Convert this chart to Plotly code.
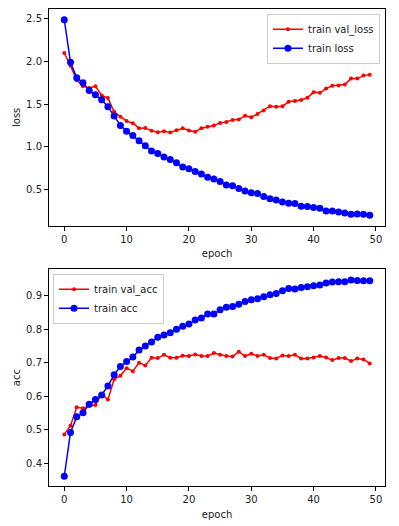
import plotly.graph_objects as go

epochs = list(range(50))

train_loss = [2.49, 1.99, 1.81, 1.75, 1.66, 1.61, 1.55, 1.47, 1.36, 1.25,
              1.18, 1.13, 1.07, 1.01, 0.95, 0.92, 0.88, 0.85, 0.81, 0.76,
              0.74, 0.71, 0.68, 0.64, 0.62, 0.59, 0.55, 0.54, 0.51, 0.48,
              0.46, 0.45, 0.415, 0.39, 0.375, 0.35, 0.335, 0.333, 0.30, 0.297,
              0.285, 0.276, 0.246, 0.244, 0.232, 0.221, 0.208, 0.209, 0.207, 0.194]

val_loss = [2.10, 1.95, 1.78, 1.71, 1.69, 1.71, 1.60, 1.57, 1.41, 1.35,
            1.30, 1.275, 1.217, 1.22, 1.186, 1.17, 1.18, 1.167, 1.194, 1.217,
            1.19, 1.174, 1.217, 1.233, 1.248, 1.279, 1.291, 1.314, 1.318, 1.364,
            1.345, 1.384, 1.425, 1.475, 1.47, 1.475, 1.527, 1.535, 1.547, 1.574,
            1.64, 1.632, 1.682, 1.715, 1.718, 1.729, 1.799, 1.799, 1.834, 1.845]

train_acc = [0.361, 0.492, 0.539, 0.551, 0.576, 0.590, 0.604, 0.631, 0.664, 0.689,
             0.704, 0.717, 0.738, 0.750, 0.762, 0.776, 0.783, 0.790, 0.800, 0.809,
             0.816, 0.828, 0.834, 0.846, 0.846, 0.858, 0.866, 0.868, 0.875, 0.883,
             0.888, 0.891, 0.897, 0.903, 0.907, 0.915, 0.922, 0.920, 0.925, 0.927,
             0.930, 0.932, 0.938, 0.941, 0.942, 0.942, 0.947, 0.946, 0.945, 0.945]

val_acc = [0.486, 0.512, 0.567, 0.564, 0.572, 0.574, 0.607, 0.590, 0.651, 0.661,
           0.684, 0.675, 0.700, 0.692, 0.715, 0.714, 0.724, 0.715, 0.715, 0.721,
           0.720, 0.725, 0.720, 0.720, 0.729, 0.724, 0.720, 0.719, 0.733, 0.720,
           0.727, 0.720, 0.724, 0.714, 0.713, 0.722, 0.720, 0.724, 0.713, 0.713,
           0.716, 0.720, 0.716, 0.708, 0.714, 0.714, 0.705, 0.713, 0.710, 0.698]

x_ticks = [0, 10, 20, 30, 40, 50]
loss_ticks = [0.5, 1.0, 1.5, 2.0, 2.5]
acc_ticks = [0.4, 0.5, 0.6, 0.7, 0.8, 0.9]

RED = "#ff0000"
BLUE = "#0000ff"
FONT = "DejaVu Sans"

fig = go.Figure()

fig.add_trace(go.Scatter(x=epochs, y=val_loss, mode="lines+markers", name="train val_loss",
                         line=dict(color=RED, width=1.5), marker=dict(color=RED, size=4),
                         xaxis="x", yaxis="y", legend="legend"))
fig.add_trace(go.Scatter(x=epochs, y=train_loss, mode="lines+markers", name="train loss",
                         line=dict(color=BLUE, width=1.5), marker=dict(color=BLUE, size=7),
                         xaxis="x", yaxis="y", legend="legend"))
fig.add_trace(go.Scatter(x=epochs, y=val_acc, mode="lines+markers", name="train val_acc",
                         line=dict(color=RED, width=1.5), marker=dict(color=RED, size=4),
                         xaxis="x2", yaxis="y2", legend="legend2"))
fig.add_trace(go.Scatter(x=epochs, y=train_acc, mode="lines+markers", name="train acc",
                         line=dict(color=BLUE, width=1.5), marker=dict(color=BLUE, size=7),
                         xaxis="x2", yaxis="y2", legend="legend2"))

axis_common = dict(showline=True, linecolor="black", linewidth=1, mirror=True,
                   ticks="outside", ticklen=4, tickcolor="black", tickwidth=1,
                   showgrid=False, zeroline=False,
                   tickfont=dict(family=FONT, size=10, color="#222222"))

fig.update_layout(
    width=399, height=526,
    margin=dict(l=49, r=14, t=8, b=38),
    paper_bgcolor="white", plot_bgcolor="white",
    font=dict(family=FONT, size=10, color="#222222"),
    xaxis=dict(domain=[0, 1], anchor="y", range=[-2.45, 51.45], tickvals=x_ticks,
               title=dict(text="epoch", font=dict(family=FONT, size=10), standoff=6),
               **axis_common),
    yaxis=dict(domain=[0.5458, 1.0], anchor="x", range=[0.073, 2.616], tickvals=loss_ticks,
               tickformat=".1f",
               title=dict(text="loss", font=dict(family=FONT, size=10), standoff=3),
               **axis_common),
    xaxis2=dict(domain=[0, 1], anchor="y2", range=[-2.45, 51.45], tickvals=x_ticks,
                title=dict(text="epoch", font=dict(family=FONT, size=10), standoff=6),
                **axis_common),
    yaxis2=dict(domain=[0, 0.4542], anchor="x2", range=[0.332, 0.979], tickvals=acc_ticks,
                tickformat=".1f",
                title=dict(text="acc", font=dict(family=FONT, size=10), standoff=3),
                **axis_common),
    legend=dict(x=0.985, y=0.99, xanchor="right", yanchor="top",
                bgcolor="rgba(255,255,255,0.8)", bordercolor="#cccccc", borderwidth=1,
                font=dict(family=FONT, size=10, color="#222222"), tracegroupgap=0,
                itemwidth=30),
    legend2=dict(x=0.012, y=0.445, xanchor="left", yanchor="top",
                 bgcolor="rgba(255,255,255,0.8)", bordercolor="#cccccc", borderwidth=1,
                 font=dict(family=FONT, size=10, color="#222222"), tracegroupgap=0,
                 itemwidth=30),
    showlegend=True,
)

fig.write_html("out.html",
               config={"displayModeBar": False},
               post_script="document.body.style.margin='0';document.body.style.overflow='hidden';")
